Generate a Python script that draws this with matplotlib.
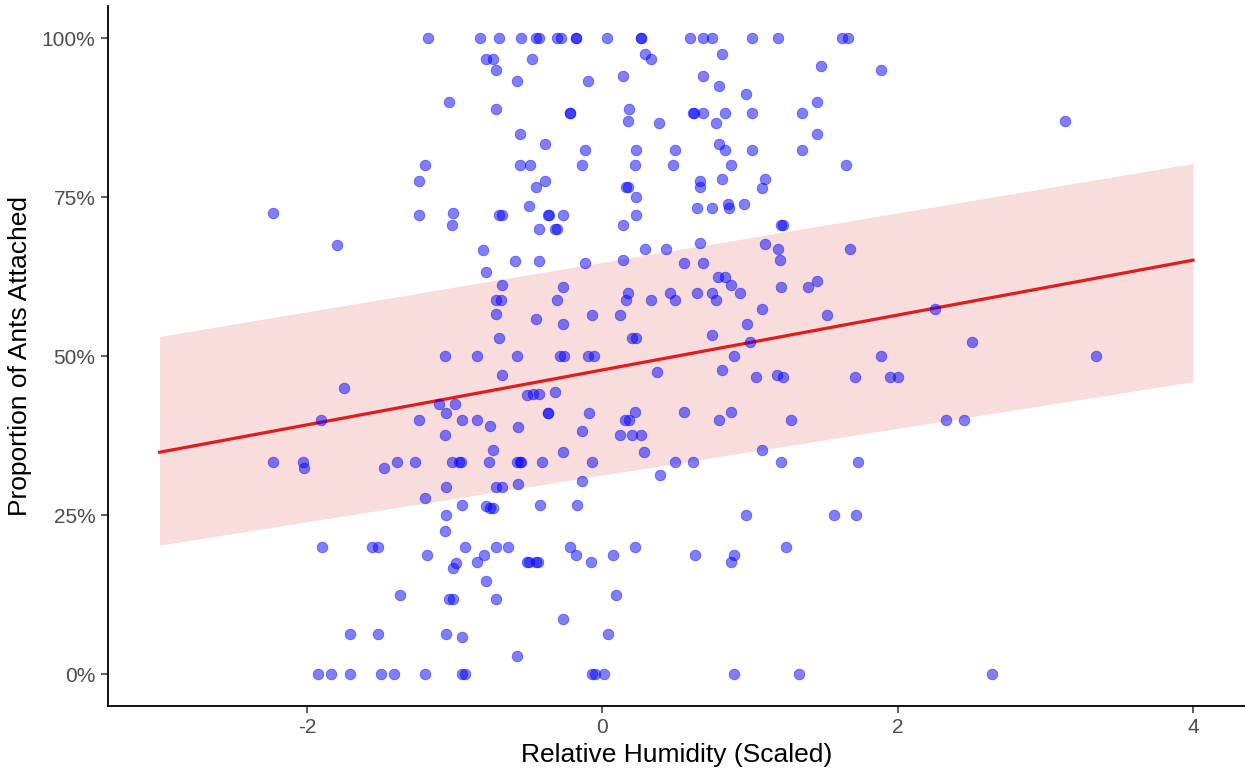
import numpy as np
import matplotlib.pyplot as plt
from matplotlib.ticker import PercentFormatter

plt.rcParams['font.family'] = ['Liberation Sans', 'DejaVu Sans']
plt.rcParams['axes.unicode_minus'] = False

# scaled relative humidity and proportion attached
hum = [
    # 100% row
    -1.18, -0.83, -0.70, -0.55, -0.45, -0.43, -0.31, -0.28, -0.18, -0.18,
    0.03, 0.26, 0.26, 0.59, 0.68, 0.74, 1.01, 1.19, 1.62, 1.66,
    # upper left block
    -0.79, -0.74, -0.48, -0.72, -0.58, -0.10, 0.14, -1.04, -0.72, -0.22, -0.22,
    0.18, 0.17, -0.56, -0.39, -0.12, -1.20, -0.56, -0.49, -0.14,
    -1.24, -0.39, -0.45, 0.16, 0.17, -0.50,
    -1.24, -0.70, -0.68, -0.37, -0.36, -0.27, -1.01, -1.02,
    -0.43, -0.32, -0.31, 0.14, -0.81,
    # upper right block
    0.29, 0.33, 0.81, 1.48, 0.68, 0.79, 0.97, 1.45,
    0.62, 0.61, 0.68, 0.83, 1.01, 1.35, 0.38, 0.77, 1.45, 0.79,
    0.23, 0.49, 0.83, 1.01, 1.35, 0.22, 0.48, 0.87, 1.65,
    0.23, 0.66, 0.66, 0.81, 1.10, 1.08,
    0.23, 0.64, 0.74, 0.85, 0.86, 0.96, 1.22, 1.21,
    0.29, 0.43, 0.66, 1.10, 1.19, 1.68,
    # middle right
    1.20, 0.55, 0.68, 0.78, 0.83, 0.87, 0.93, 1.21, 1.39, 1.45,
    0.33, 0.46, 0.49, 0.64, 0.74, 0.77, 1.08, 1.52, 0.98, 0.74,
    0.20, 0.23, 1.00, 0.89, 0.81, 0.37, 1.04, 1.18, 1.22, 1.71,
    0.55, 0.87, 0.79, 1.28, 0.28, 1.08, 0.49, 0.61, 1.21, 1.73, 0.39,
    # middle left
    -0.59, -0.43, -0.12, 0.14, -0.79, -0.68, -0.27, -0.72, -0.69, -0.31, 0.17, 0.16,
    -0.72, -0.45, -0.27, -0.07, 0.12, -0.70,
    -1.07, -0.85, -0.58, -0.29, -0.26, -0.10, -0.06,
    -0.68, -0.51, -0.47, -0.43, -0.32,
    -1.11, -1.00, -1.06, -0.37, -0.37, -0.09,
    -1.24, -0.95, -0.85, -0.76, -0.57, -0.14, 0.15, 0.18, 0.22,
    -1.07, 0.12, 0.20, 0.26, -0.74, -0.27,
    -1.39, -1.27, -1.02, -0.97, -0.96, -0.77, -0.58, -0.56, -0.55, -0.41, -0.07,
    # far left / far right
    1.89, 3.13, -2.23, -1.80,
    -1.75, -1.91, -2.23, -2.03, -2.02, -1.48,
    2.25, 2.50, 1.89, 3.34, 1.95, 2.00, 2.33, 2.45,
    -1.90, -1.56, -1.52, -1.71, -1.52, -1.93, -1.84, -1.71, -1.50,
    # lower block
    -1.06, -1.20, -0.72, -0.68, -0.57, -0.14,
    -0.95, -0.79, -0.76, -0.74, -0.42, -0.17,
    -1.06, -1.07, -0.93, -0.72, -0.64, -0.22,
    -1.19, -0.99, -1.01, -0.80, -0.85, -0.51, -0.50, -0.45, -0.44, -0.18, -0.08, 0.07,
    -0.79, -1.37, -1.04, -1.01, -0.72, 0.09, -0.27,
    -1.06, -0.95, 0.04, -0.58,
    -1.41, -1.20, -0.95, -0.93, -0.07, -0.05, 0.01,
    0.97, 1.57, 1.72, 0.22, 0.63, 0.89, 0.87, 1.24, 0.89, 1.33,
    2.64,
]

prop = [
    1.0, 1.0, 1.0, 1.0, 1.0, 1.0, 1.0, 1.0, 1.0, 1.0,
    1.0, 1.0, 1.0, 1.0, 1.0, 1.0, 1.0, 1.0, 1.0, 1.0,
    0.967, 0.967, 0.967, 0.95, 0.932, 0.932, 0.94, 0.90, 0.888, 0.882, 0.882,
    0.888, 0.87, 0.849, 0.833, 0.824, 0.80, 0.80, 0.80, 0.80,
    0.775, 0.775, 0.766, 0.766, 0.766, 0.736,
    0.722, 0.722, 0.722, 0.722, 0.722, 0.722, 0.725, 0.706,
    0.70, 0.70, 0.70, 0.706, 0.667,
    0.975, 0.967, 0.975, 0.956, 0.94, 0.925, 0.913, 0.90,
    0.882, 0.882, 0.882, 0.882, 0.882, 0.882, 0.866, 0.866, 0.85, 0.833,
    0.824, 0.824, 0.824, 0.824, 0.824, 0.80, 0.80, 0.80, 0.80,
    0.75, 0.775, 0.766, 0.778, 0.778, 0.765,
    0.722, 0.733, 0.733, 0.74, 0.733, 0.739, 0.706, 0.706,
    0.668, 0.668, 0.678, 0.676, 0.668, 0.668,
    0.652, 0.646, 0.646, 0.625, 0.625, 0.612, 0.60, 0.609, 0.609, 0.618,
    0.588, 0.60, 0.588, 0.60, 0.60, 0.588, 0.574, 0.565, 0.55, 0.533,
    0.528, 0.528, 0.522, 0.50, 0.478, 0.475, 0.467, 0.47, 0.467, 0.467,
    0.412, 0.412, 0.40, 0.40, 0.35, 0.352, 0.333, 0.333, 0.333, 0.333, 0.313,
    0.649, 0.649, 0.646, 0.652, 0.632, 0.612, 0.609, 0.588, 0.588, 0.588, 0.60, 0.588,
    0.566, 0.558, 0.55, 0.565, 0.565, 0.528,
    0.50, 0.50, 0.50, 0.50, 0.50, 0.50, 0.50,
    0.47, 0.439, 0.44, 0.44, 0.444,
    0.425, 0.425, 0.41, 0.41, 0.41, 0.41,
    0.40, 0.40, 0.40, 0.391, 0.388, 0.382, 0.40, 0.40, 0.412,
    0.376, 0.376, 0.376, 0.376, 0.352, 0.35,
    0.333, 0.333, 0.333, 0.333, 0.333, 0.333, 0.333, 0.333, 0.333, 0.333, 0.333,
    0.95, 0.87, 0.725, 0.675,
    0.45, 0.40, 0.333, 0.333, 0.324, 0.324,
    0.574, 0.522, 0.50, 0.50, 0.467, 0.467, 0.40, 0.40,
    0.20, 0.20, 0.20, 0.063, 0.063, 0.0, 0.0, 0.0, 0.0,
    0.294, 0.277, 0.294, 0.294, 0.299, 0.303,
    0.266, 0.264, 0.261, 0.261, 0.266, 0.266,
    0.25, 0.225, 0.20, 0.20, 0.20, 0.20,
    0.187, 0.175, 0.167, 0.187, 0.176, 0.176, 0.176, 0.176, 0.176, 0.187, 0.176, 0.187,
    0.146, 0.124, 0.118, 0.118, 0.118, 0.124, 0.086,
    0.063, 0.059, 0.063, 0.028,
    0.0, 0.0, 0.0, 0.0, 0.0, 0.0, 0.0,
    0.25, 0.25, 0.25, 0.20, 0.187, 0.187, 0.176, 0.20, 0.0, 0.0,
    0.0,
]

# fitted line and band at the ends of the prediction range
fit_x = [-3.0, 4.0]
fit_y = [0.349, 0.651]
band_lo = [0.203, 0.460]
band_hi = [0.531, 0.803]

fig = plt.figure(figsize=(12.45, 7.73), dpi=100)
ax = fig.add_axes([0.0867, 0.0867, 0.913, 0.905])

ax.fill_between(fit_x, band_lo, band_hi, color='#f9dcdc', lw=0, zorder=1)
ax.plot(fit_x, fit_y, color='#e41a1c', lw=2.3, zorder=2)
ax.scatter(hum, prop, s=58, color='blue', alpha=0.5, edgecolors='blue',
           linewidths=0.6, zorder=3)

ax.set_xlim(-3.35, 4.35)
ax.set_ylim(-0.05, 1.05)
ax.set_xticks([-2, 0, 2, 4])
ax.set_yticks([0, 0.25, 0.5, 0.75, 1.0])
ax.yaxis.set_major_formatter(PercentFormatter(1.0, decimals=0))

for side in ['top', 'right']:
    ax.spines[side].set_visible(False)
for side in ['left', 'bottom']:
    ax.spines[side].set_linewidth(1.3)
    ax.spines[side].set_color('black')
ax.tick_params(length=5, width=1.1, color='#333333', labelcolor='#4d4d4d',
               labelsize=15, pad=4)

ax.set_xlabel('Relative Humidity (Scaled)', fontsize=19, labelpad=4)
ax.set_ylabel('Proportion of Ants Attached', fontsize=19, labelpad=7)

fig.savefig('out.png', dpi=100)
